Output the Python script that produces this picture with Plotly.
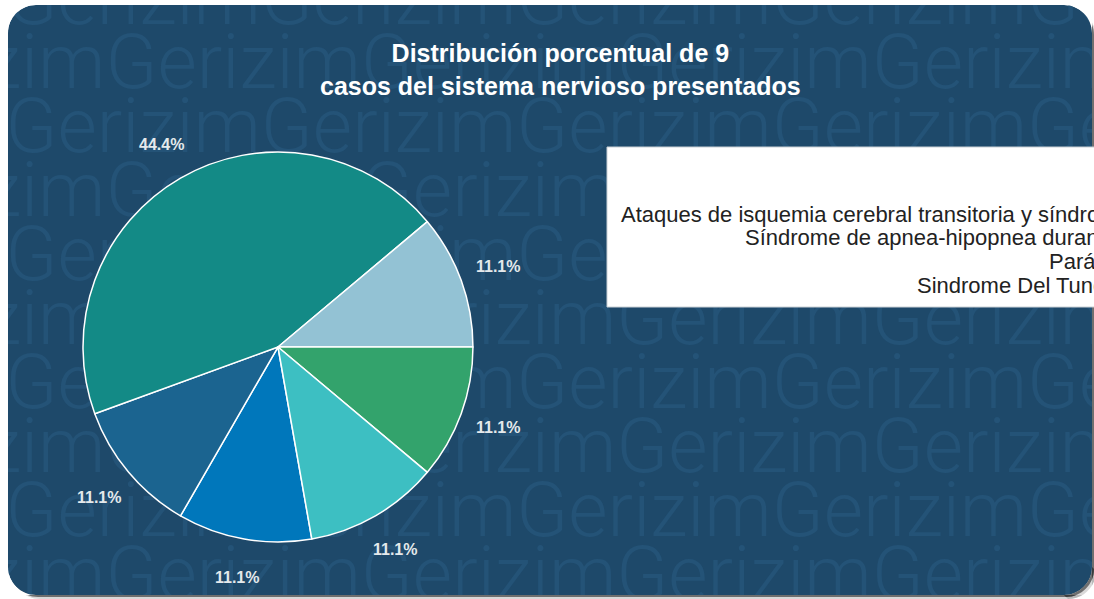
import math
import plotly.graph_objects as go

# Casos del sistema nervioso (número de casos por diagnóstico)
labels = [
    "Epilepsia",
    "Migraña",
    "Ataques de isquemia cerebral transitoria y síndromes afines",
    "Síndrome de apnea-hipopnea durante el sueño",
    "Parálisis de Bell",
    "Sindrome Del Tunel Carpiano",
]
values = [1, 1, 4, 1, 1, 1]
colors = ["#0077bb", "#1b6490", "#138a86", "#93c2d4", "#33a36c", "#3dbfc2"]

watermark_word = "Gerizim"

W, H = 1094, 599
BG = "#1e496a"
MARK = "#245377"


def px(x, y):
    """Pixel position -> paper coordinates."""
    return x / W, 1 - y / H


def path_from(cmds):
    out = ""
    for cmd, ps in cmds:
        out += cmd + " " + " ".join("%.5f,%.5f" % px(*p) for p in ps) + " "
    return out + "Z"


def rounded_rect(l, t, r, b, rad):
    k = 0.5523 * rad
    return path_from([
        ("M", [(l + rad, t)]),
        ("L", [(r - rad, t)]),
        ("C", [(r - rad + k, t), (r, t + rad - k), (r, t + rad)]),
        ("L", [(r, b - rad)]),
        ("C", [(r, b - rad + k), (r - rad + k, b), (r - rad, b)]),
        ("L", [(l + rad, b)]),
        ("C", [(l + rad - k, b), (l, b - rad + k), (l, b - rad)]),
        ("L", [(l, t + rad)]),
        ("C", [(l, t + rad - k), (l + rad - k, t), (l + rad, t)]),
    ])


def corner_mask(cx, cy, sx, sy, rad):
    """Patch outside a rounded corner; (cx, cy) is the square corner."""
    k = 0.5523 * rad
    return path_from([
        ("M", [(cx, cy)]),
        ("L", [(cx, cy + sy * rad)]),
        ("C", [(cx, cy + sy * (rad - k)), (cx + sx * (rad - k), cy), (cx + sx * rad, cy)]),
    ])


def corner_shadow(cx, cy, rad, d):
    """Shadow band around the bottom-right rounded corner."""
    k = 0.5523 * rad
    return path_from([
        ("M", [(cx + d, cy - rad + d)]),
        ("C", [(cx + d, cy - rad + k + d), (cx - rad + k + d, cy + d), (cx - rad + d, cy + d)]),
        ("L", [(cx - rad, cy)]),
        ("C", [(cx - rad + k, cy), (cx, cy - rad + k), (cx, cy - rad)]),
    ])


CL, CT, CR, CB, RAD = 8, 5, 1092, 595, 28

fig = go.Figure()

# Marca de agua repetida en el fondo de la tarjeta
row_centers = [5, 69, 133, 197, 261, 325, 389, 453, 517, 581]
for i, yc in enumerate(row_centers):
    x0 = -150 if i % 2 == 1 else -250
    fig.add_trace(go.Scatter(
        x=[x0], y=[yc], mode="text", text=[watermark_word * 7],
        textposition="middle right",
        textfont=dict(family="Roboto", size=76, color=MARK, weight=300),
        hoverinfo="skip", showlegend=False, cliponaxis=True,
    ))

total = sum(values)
rotation = 170
pie_x = [0.0758, 0.4324]
pie_y = [0.0952, 0.7462]

fig.add_trace(go.Pie(
    labels=labels,
    values=values,
    sort=False,
    direction="clockwise",
    rotation=rotation,
    marker=dict(colors=colors, line=dict(color="white", width=1.5)),
    textinfo="none",
    domain=dict(x=pie_x, y=pie_y),
    showlegend=False,
    hoverinfo="label+value+percent",
))

shapes = [
    # sombra de la tarjeta
    dict(type="path", xref="paper", yref="paper", layer="below",
         path=rounded_rect(CL + 4, CT + 4, CR + 4, CB + 4, RAD),
         fillcolor="rgba(0,0,0,0.15)", line=dict(width=0)),
    dict(type="path", xref="paper", yref="paper", layer="below",
         path=rounded_rect(CL + 2, CT + 2, CR + 2, CB + 2, RAD),
         fillcolor="rgba(40,40,40,0.6)", line=dict(width=0)),
    # tarjeta
    dict(type="path", xref="paper", yref="paper", layer="below",
         path=rounded_rect(CL, CT, CR, CB, RAD),
         fillcolor=BG, line=dict(width=0)),
    # esquinas fuera de la tarjeta
    dict(type="path", xref="paper", yref="paper", layer="above",
         path=corner_mask(CL, CT, 1, 1, RAD), fillcolor="white", line=dict(width=0)),
    dict(type="path", xref="paper", yref="paper", layer="above",
         path=corner_mask(CR, CT, -1, 1, RAD), fillcolor="white", line=dict(width=0)),
    dict(type="path", xref="paper", yref="paper", layer="above",
         path=corner_mask(CL, CB, 1, -1, RAD), fillcolor="white", line=dict(width=0)),
    dict(type="path", xref="paper", yref="paper", layer="above",
         path=corner_mask(CR, CB, -1, -1, RAD), fillcolor="white", line=dict(width=0)),
    dict(type="path", xref="paper", yref="paper", layer="above",
         path=corner_shadow(CR, CB, RAD, 4), fillcolor="rgba(0,0,0,0.15)", line=dict(width=0)),
    dict(type="path", xref="paper", yref="paper", layer="above",
         path=corner_shadow(CR, CB, RAD, 2), fillcolor="rgba(40,40,40,0.6)", line=dict(width=0)),
    # caja de la leyenda
    dict(type="rect", xref="paper", yref="paper", layer="above",
         x0=607 / W, x1=1.05, y0=1 - 307 / H, y1=1 - 147 / H,
         fillcolor="white", line=dict(color="#c9d0d5", width=1)),
]

annotations = [
    dict(xref="paper", yref="paper", x=560 / W, y=1 - 70 / H,
         xanchor="center", yanchor="middle", showarrow=False,
         text="Distribución porcentual de %d<br>casos del sistema nervioso presentados" % total,
         font=dict(family="Liberation Sans", size=25, color="white", weight="bold")),
]

# Etiquetas de porcentaje fuera del pastel, sobre el ángulo medio de cada sector
cx = (pie_x[0] + pie_x[1]) / 2 * W
cy = (1 - (pie_y[0] + pie_y[1]) / 2) * H
radius = min((pie_x[1] - pie_x[0]) * W, (pie_y[1] - pie_y[0]) * H) / 2
cum = 0
for v in values:
    mid = math.radians(rotation + 360 * (cum + v / 2) / total)
    cum += v
    lx = cx + 1.2 * radius * math.sin(mid)
    ly = cy - 1.2 * radius * math.cos(mid)
    annotations.append(dict(
        xref="paper", yref="paper", x=lx / W, y=1 - ly / H,
        xanchor="center", yanchor="middle", showarrow=False,
        text="%.1f%%" % (100 * v / total),
        font=dict(family="Liberation Sans", size=16, color="#e4e9ec", weight="bold"),
    ))

# Leyenda: texto alineado a la derecha, una línea por categoría
legend_right = 1208
legend_top = 167
legend_step = 23.6
for i, lab in enumerate(labels):
    annotations.append(dict(
        xref="paper", yref="paper", x=legend_right / W,
        y=1 - (legend_top + i * legend_step) / H,
        xanchor="right", yanchor="middle", showarrow=False, text=lab,
        font=dict(family="Liberation Sans", size=22, color="#222222"),
    ))

fig.update_layout(
    width=W, height=H,
    margin=dict(l=0, r=0, t=0, b=0),
    paper_bgcolor="white",
    plot_bgcolor="rgba(0,0,0,0)",
    xaxis=dict(domain=[CL / W, CR / W], range=[CL, CR], visible=False, fixedrange=True),
    yaxis=dict(domain=[1 - CB / H, 1 - CT / H], range=[CB, CT], visible=False, fixedrange=True),
    shapes=shapes,
    annotations=annotations,
)

fig.write_html("out.html")
